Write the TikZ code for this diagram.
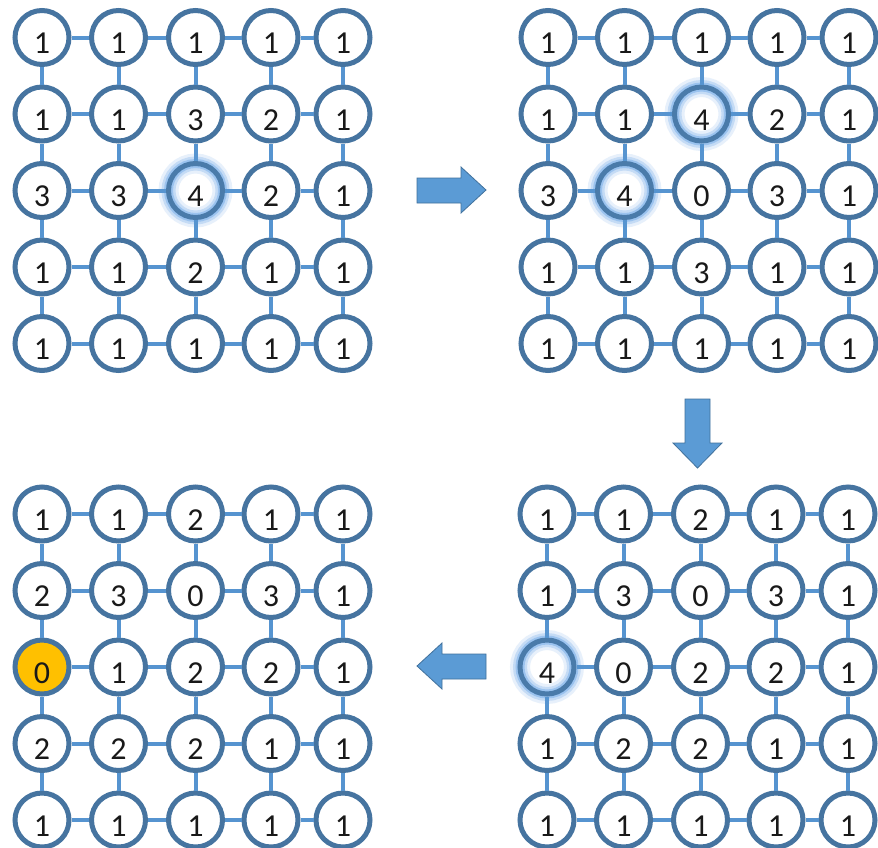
\documentclass[tikz,border=0pt]{standalone}
\usepackage{fontspec}
\setmainfont{Carlito}
\definecolor{ringc}{RGB}{70,116,160}
\definecolor{linkc}{RGB}{86,148,208}
\definecolor{glowc}{RGB}{95,160,230}
\definecolor{goldc}{RGB}{255,192,0}
\definecolor{arrowc}{RGB}{91,155,213}
\definecolor{arrowedge}{RGB}{65,113,156}
\tikzset{
  cnode/.style={circle, draw=ringc, line width=5pt, minimum size=54pt, inner sep=0pt,
    font=\fontsize{32}{32}\selectfont, text=black!90, text height=32pt, text depth=0pt},
  glowing/.style={draw=ringc!85!glowc,
    preaction={draw=glowc, draw opacity=0.15, line width=20pt},
    preaction={draw=glowc, draw opacity=0.25, line width=14pt},
    preaction={draw=glowc, draw opacity=0.4, line width=9pt}},
  gold/.style={fill=goldc},
  link/.style={draw=linkc, line width=4pt},
  bigarrow/.style={fill=arrowc, draw=arrowedge, line width=0.8pt, line join=miter}
}
\newcommand\drawgrid[4]{%
  \foreach \v/\s [count=\i from 0] in {#4}{%
    \pgfmathtruncatemacro\r{div(\i,5)}%
    \pgfmathtruncatemacro\c{mod(\i,5)}%
    \pgfmathsetmacro\px{#2+{0,76.5,153.5,229,301}[\c]}%
    \pgfmathsetmacro\py{#3+76.5*\r}%
    \if g\s\tikzset{cur/.style={glowing}}\else\if o\s\tikzset{cur/.style={gold}}\else\tikzset{cur/.style={}}\fi\fi
    \node[cnode,cur] (#1-\r-\c) at (\px,\py) {\v};
  }
  \foreach \r in {0,...,4}{%
    \foreach \c [evaluate=\c as \cn using int(\c+1)] in {0,...,3}{%
      \draw[link] (#1-\r-\c) -- (#1-\r-\cn);
      \draw[link] (#1-\c-\r) -- (#1-\cn-\r);
    }
  }
}
\begin{document}
\begin{tikzpicture}[x=1pt,y=-1pt]
\useasboundingbox (0,0) rectangle (878,847);
\fill[white] (0,0) rectangle (878,847);
\drawgrid{TL}{42}{37.5}{1/n,1/n,1/n,1/n,1/n, 1/n,1/n,3/n,2/n,1/n, 3/n,3/n,4/g,2/n,1/n, 1/n,1/n,2/n,1/n,1/n, 1/n,1/n,1/n,1/n,1/n}
\drawgrid{TR}{548}{37.5}{1/n,1/n,1/n,1/n,1/n, 1/n,1/n,4/g,2/n,1/n, 3/n,4/g,0/n,3/n,1/n, 1/n,1/n,3/n,1/n,1/n, 1/n,1/n,1/n,1/n,1/n}
\drawgrid{BR}{547}{514}{1/n,1/n,2/n,1/n,1/n, 1/n,3/n,0/n,3/n,1/n, 4/g,0/n,2/n,2/n,1/n, 1/n,2/n,2/n,1/n,1/n, 1/n,1/n,1/n,1/n,1/n}
\drawgrid{BL}{42}{514}{1/n,1/n,2/n,1/n,1/n, 2/n,3/n,0/n,3/n,1/n, 0/o,1/n,2/n,2/n,1/n, 2/n,2/n,2/n,1/n,1/n, 1/n,1/n,1/n,1/n,1/n}
% right arrow
\draw[bigarrow] (417,178) -- (461,178) -- (461,167) -- (486,190) -- (461,213) -- (461,203) -- (417,203) -- cycle;
% down arrow
\draw[bigarrow] (685,399) -- (710,399) -- (710,443) -- (722,443) -- (697.5,468) -- (673,443) -- (685,443) -- cycle;
% left arrow
\draw[bigarrow] (486,654) -- (442,654) -- (442,643) -- (417,666) -- (442,689) -- (442,679) -- (486,679) -- cycle;
\end{tikzpicture}
\end{document}
